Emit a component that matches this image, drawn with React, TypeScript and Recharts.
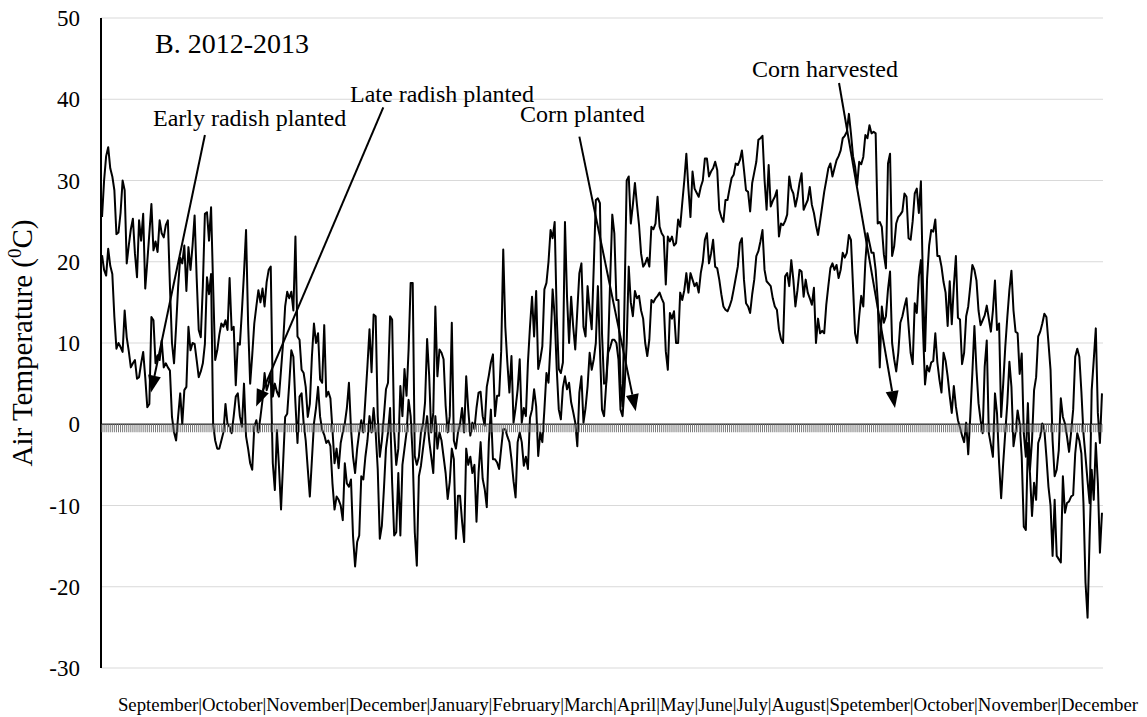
import React from "react";
import { LineChart, Line, XAxis, YAxis, CartesianGrid, ReferenceLine } from "recharts";

// daily maximum air temperature (°C), Sep 2012 – Dec 2013
const MAX_T = [
  25.5, 30, 33, 34.1, 31.5, 30.5, 28.8, 23.4, 23.6, 26,
  30, 28.8, 19.8, 22, 24, 25.3, 21, 18.1, 25.1, 22.6,
  25.9, 16.7, 20, 23.5, 27.1, 21.4, 22.5, 21.2, 25.1, 23.5,
  23, 24.5, 25.1, 17, 10, 7.5, 12, 17, 20.5, 19.8,
  22, 16.4, 21.8, 19, 22, 25.7, 18, 11.6, 10.7, 17,
  25.9, 26.1, 22.6, 26.7, 17, 7.9, 9.1, 11, 12.4, 12,
  12.8, 11.6, 18, 11.6, 12, 4.8, 10, 9.8, 14, 18.6,
  23.9, 12.4, 5, 8.5, 12.4, 14.5, 16.5, 15, 16.7, 14.5,
  17.5, 19, 19.4, 3.4, 5, 4, 3.4, 6.7, 10, 14.5,
  16.3, 15.5, 16.3, 14, 23.1, 10.8, 10.4, 6.7, 6.3, 4.6,
  0.9, 2.5, 8.3, 12.4, 10, 11.2, 5.5, 5.1, 12.2, 3.4,
  4, 3.2, -0.7, -4.8, -3, -5.4, -2.3, -1, 0.1, 2,
  5.1, -0.5, -4, -6, -3, -1, 0.5, -1, 3.1, 7.2,
  11.7, 6.4, 13.5, 13.3, 1, -4, -2, 1, 4.3, 5.1,
  13.3, 12.9, -1, -5, -3, 4.7, 1, 6.8, 3.5, 9.2,
  17.4, 17.4, -3.9, -5, -4, -1, 0, 2.7, 10.5, 6,
  -1, 1.4, 14.5, 5.9, 9.2, 8.8, 8, 2.3, -1, 1,
  12.5, -2, -3, -1, 0, 2, -1, 5.9, 1.8, -1.4,
  0.2, -0.6, 2, 3.9, 4, 1, -0.2, 4.6, 6, 7.6,
  8.6, 1, 3.5, 3.5, 9, 21.5, 12, 7.6, 3.9, 8.4,
  0.2, 2, 4.3, 8, 0.2, 2, 1, 7.6, 12, 15.7,
  10.8, 16.4, 6.8, 8, 9.6, 16.6, 17.4, 20, 23.9, 22.9,
  24.9, 13.3, 6.8, 6.3, 7.6, 24.9, 15.7, 10, 15.7, 12,
  9.2, 14, 18.6, 19.8, 12, 10.8, 17, 14, 11.7, 19.4,
  27.6, 27.8, 27.2, 11.2, 5, 5.1, 9.6, 18, 25.8, 23.5,
  15.3, 15.3, 5, 2.2, 16, 30, 30.5, 24.7, 27, 29.7,
  27, 24.5, 21, 19.4, 19.8, 20.5, 19.4, 24.3, 24, 24.7,
  28, 24.3, 23.5, 23.1, 17.2, 23.1, 22.5, 23.1, 22, 22.3,
  25.2, 24.3, 27.2, 30, 33.3, 29, 25.5, 31.1, 29, 28.5,
  28, 29.2, 30, 32.7, 32.7, 30.5, 31.1, 31.5, 32.3, 31.3,
  26.4, 25.5, 24.9, 27.6, 27.6, 29, 30.3, 30.7, 32.1, 31.9,
  32.5, 33.7, 31.3, 28.8, 28.6, 26.2, 29.7, 31, 32.3, 35,
  35.2, 35.5, 30.1, 26.4, 31.9, 26.8, 27.5, 28, 28.8, 23.1,
  24.7, 24.5, 25, 25.8, 30.5, 29, 28.4, 26.8, 28, 29.7,
  30.9, 26.4, 27, 27.6, 29.2, 27, 26, 24.5, 23.3, 25,
  26.8, 28.6, 30, 31.5, 32.1, 30.5, 31.5, 32.5, 33, 33.7,
  35.2, 35.5, 36, 38.2, 35.8, 33, 31.7, 29.4, 32.3, 32,
  32.9, 35.6, 35.2, 36.8, 35.8, 36, 35.8, 24.7, 24.9, 24.3,
  20.9, 19.2, 32.1, 33.3, 20.7, 21.9, 24.7, 25.5, 25.8, 26.2,
  28.4, 28, 22.9, 22.7, 25, 28.4, 29, 26, 29.9, 17,
  9, 17.9, 22, 23.9, 23.7, 25.2, 20.7, 20.7, 19.4, 17.5,
  16.2, 12.1, 17.6, 12.3, 17, 20.7, 13.1, 12.9, 7.4, 8.8,
  13.3, 14.5, 17, 19.6, 19, 17.7, 14, 12.2, 12.8, 13.4,
  14.6, 13, 11.4, 14, 17.7, 11.6, 12.4, 0.9, 5, 9.5,
  13.2, 16.5, 18.9, 14, 11.4, 11.2, 6.2, 8.7, -1.1, -4,
  2.6, -5.6, -2, 4.2, 5.8, 10.8, 11.4, 12.4, 13.6, 13.2,
  10, 6.7, -2, -6.4, -5.6, -3.2, 3.2, 0.9, 0.1, -1.5,
  -3.4, -1, 1.8, 8.3, 9.3, 8.3, 4, -1.1, -4, -7,
  -9.7, 4.2, 7.9, 11.8, 1.4, -2.3, 3.8,
];

// daily minimum air temperature (°C), same days
const MIN_T = [
  20.8, 19, 18.3, 21.6, 19.5, 18.5, 13.2, 9.3, 10, 9.5,
  8.9, 14, 10.7, 9, 7, 7.5, 7.9, 5.6, 5.8, 7.5,
  8.9, 5.8, 2.1, 2.5, 13.2, 12.8, 7.5, 8.5, 7.9, 10.3,
  7, 7.5, 7, 6.6, 0.9, -1, -2, 1, 3.8, 0,
  4.2, 4.6, 12, 9.1, 10, 9.9, 7.9, 5.8, 6.5, 7.5,
  9.9, 18.1, 16, 18.5, 0, -2, -3, -3, -2, -1,
  2.5, 0, -0.3, -1.1, 1, 3.4, 3.8, 1, -0.3, 5,
  -1.5, -3, -4.8, -5.6, -0.3, 0.5, -1, 0.9, 3, 6.3,
  4.2, 5, 6.3, -4.8, -8.1, -0.7, -5.2, -10.5, -4.8, 0.9,
  1.3, 5, 9.1, 8.3, 2.6, -2.3, 3.4, 3.8, 0.1, -2,
  -5.5, -8.9, -4.4, 0.1, 2, 4.6, 0.9, -0.7, -1.3, -2.3,
  -2, -2.7, -7.3, -10.5, -8.9, -9.3, -10, -11.8, -4.8, -7.3,
  -7.7, -6.8, -13.8, -17.5, -14.5, -13.7, -6.4, -6.8, -4, -2,
  1, -1, 2, -1, -5.5, -14.1, -12.5, -8, -3, -1,
  2, -7.2, -13.7, -13.3, -6, -13.7, -5, -3, -1, 3,
  1, -3.9, -13.3, -17.4, -6.4, -5.1, -3, -1, 1, -2,
  -4, -6, 1, -3, -1, -2, -4, -6, -9.2, -7.1,
  -3, -4.3, -14.1, -8.8, -8.8, -12, -14.5, -3, -5, -4,
  -6, -5, -12, -6, -2.2, -6.7, -8, -10.2, -2.2, 1.8,
  -4.3, -4.3, -4.7, -5.5, -3, -0.6, -0.6, -1.5, -2.2, -4.3,
  -7, -9, -2.2, -1, -2.2, -5.1, -4, -5.5, 0.8, 1.8,
  4.3, 2.2, -3.9, -1, -2.2, 1.8, 6.3, 5.1, 10, 16.6,
  13.3, 6.8, 1.8, 0.6, 4.5, 5.9, 4.3, 5.1, 2.7, 1.5,
  0.2, -2.7, 3.9, 5.9, 0.2, 2, 4.7, 8.8, 6.7, 8,
  10, 17, 9.2, 1.8, 1, 4.8, 8.8, 9.5, 10.4, 10.4,
  10, 8, 1.8, 1, 4.7, 10, 19.4, 15, 13.3, 16.4,
  15.5, 15.8, 14, 13, 10, 8.4, 10.4, 15.3, 15, 15.5,
  15.8, 16.2, 15.5, 14.9, 9, 6.7, 13.7, 13, 13.9, 10,
  10, 16.2, 15.3, 16.5, 18.6, 16.2, 18.6, 17.8, 17, 17.4,
  16.2, 18.6, 20, 22.7, 23.5, 19.8, 21, 22.7, 19.4, 19.2,
  17.8, 16, 14.5, 14.1, 13.9, 14.5, 15.3, 16.6, 18, 19.4,
  22.3, 22.9, 17.8, 14.9, 14.5, 13.7, 16, 17.8, 20.7, 21.3,
  22.5, 23.9, 19, 17.6, 17.3, 17, 15.5, 14.5, 14.1, 11.7,
  10.5, 10, 18.2, 18.6, 17, 20.2, 17.8, 14.5, 16.5, 19,
  18.8, 15.7, 17.8, 16.2, 15.5, 14.7, 16.8, 10, 13, 11.2,
  11.5, 11.2, 14.7, 17, 19.2, 19.8, 19, 19.6, 18, 19,
  21.1, 20.5, 21.1, 23.3, 22.7, 17, 11.2, 10, 13.3, 15.8,
  14.5, 20, 23.5, 22.3, 21.1, 21.1, 19, 15.3, 7, 14.5,
  12.5, 13.3, 16.6, 18.8, 10, 8, 6.5, 8.8, 12.5, 13.3,
  14.5, 15.5, 12.1, 8.8, 7.4, 14.9, 13.7, 18.2, 20.2, 11.7,
  4.9, 7.2, 6.5, 7.6, 7.8, 11.2, 7.6, 5.5, 3.9, 8.8,
  7.8, 5.9, 3.5, 1.4, 4.7, 2.2, 0.5, -0.4, -1.4, -2.2,
  0.2, -3.7, 1, 6.3, 12.1, 6.7, 2.6, 0.5, -1.1, 7.1,
  10.3, -1.1, -2.5, -4, 3.8, 1.3, -4.8, -9.1, -4.8, -1,
  2.6, 7.7, 4.6, -2.7, -1, 1.7, 0.1, -4, -12.6, -13,
  -2.3, -6, -11.3, -7.2, -9.3, -2.3, -1.5, 0.1, -0.7, -4,
  -7.7, -10, -16.2, -9.3, -16.2, -16.6, -17, -6.4, -10.9, -9.7,
  -9.5, -8.9, -8.7, -3.6, -1.1, -2, -3.6, -9.7, -19.5, -23.8,
  -13.8, -5.6, -9.3, -2.3, -7.2, -15.8, -10.9,
];

const MONTHS = [
  "September", "October", "November", "December", "January", "February",
  "March", "April", "May", "June", "July", "August", "Spetember",
  "October", "November", "December",
];

const Y_TICKS = [-30, -20, -10, 0, 10, 20, 30, 40, 50];

// arrows in data units: [day, °C] from the label end to the tip
const ARROWS = [
  { from: [50, 35.6], to: [23.8, 3.9] },
  { from: [136.7, 39], to: [74.9, 2.2] },
  { from: [232, 35.4], to: [259.4, 1.6] },
  { from: [358.2, 42], to: [385.4, 2.0] },
];

const NOTES = [
  { text: "B. 2012-2013", x: 155, y: 53, size: 28 },
  { text: "Early radish planted", x: 153, y: 126, size: 24 },
  { text: "Late radish planted", x: 350, y: 102, size: 24 },
  { text: "Corn planted", x: 520, y: 122, size: 24 },
  { text: "Corn harvested", x: 752, y: 77, size: 24 },
];

const FONT = "'Liberation Serif', 'Times New Roman', serif";

const rows = MAX_T.map((hi, i) => ({ day: i, hi, lo: MIN_T[i], axis: 0 }));

/** arrow drawn from the reference segment end points */
const Arrow = (p: any) => {
  const { x1, y1, x2, y2 } = p;
  const dx = x2 - x1;
  const dy = y2 - y1;
  const len = Math.hypot(dx, dy) || 1;
  const ux = dx / len;
  const uy = dy / len;
  const head = 17;
  const half = 6.5;
  const bx = x2 - ux * head;
  const by = y2 - uy * head;
  return (
    <g>
      <line x1={x1} y1={y1} x2={bx} y2={by} stroke="#000" strokeWidth={2} />
      <polygon
        points={`${x2},${y2} ${bx - uy * half},${by + ux * half} ${bx + uy * half},${by - ux * half}`}
        fill="#000"
      />
    </g>
  );
};

// little tick under the zero line for every day
const DayTick = (p: any) => (
  <line
    key={`tk-${p.index}`}
    x1={p.cx}
    x2={p.cx}
    y1={p.cy}
    y2={p.cy + 8}
    stroke="#7a7a7a"
    strokeWidth={1}
  />
);

const YTick = (p: any) => (
  <text
    x={p.x}
    y={p.y}
    dy="0.35em"
    textAnchor="end"
    fontFamily={FONT}
    fontSize={23}
    fill="#000"
    style={{ fontFamily: FONT }}
  >
    {p.payload.value}
  </text>
);

const XTitle = (p: any) => {
  const vb = p.viewBox || {};
  return (
    <text
      x={vb.x + vb.width / 2 + 26}
      y={vb.y + 43}
      textAnchor="middle"
      fontFamily={FONT}
      fontSize={18.8}
      fill="#000"
      style={{ fontFamily: FONT }}
    >
      {MONTHS.join("|")}
    </text>
  );
};

const YTitle = (p: any) => {
  const vb = p.viewBox || {};
  const cx = 32;
  const cy = vb.y + vb.height / 2;
  return (
    <text
      x={cx}
      y={cy}
      transform={`rotate(-90 ${cx} ${cy})`}
      textAnchor="middle"
      fontFamily={FONT}
      fontSize={29}
      fill="#000"
      style={{ fontFamily: FONT }}
    >
      Air Temperature (
      <tspan fontSize={19} dy={-11}>
        0
      </tspan>
      <tspan dy={11}>C)</tspan>
    </text>
  );
};

export default function App() {
  return (
    <div
      style={{
        position: "absolute",
        left: 0,
        top: 0,
        width: 1147,
        height: 717,
        background: "#fff",
        fontFamily: FONT,
      }}
    >
      <LineChart
        width={1147}
        height={717}
        data={rows}
        margin={{ top: 18, right: 44, bottom: 0, left: 0 }}
        style={{ fontFamily: FONT }}
      >
        <CartesianGrid vertical={false} stroke="#d9d9d9" strokeWidth={1} />
        <XAxis
          dataKey="day"
          type="number"
          domain={[-0.5, MAX_T.length - 0.5]}
          height={49}
          axisLine={false}
          tickLine={false}
          tick={false}
          label={<XTitle />}
        />
        <YAxis
          domain={[-30, 50]}
          ticks={Y_TICKS}
          width={101}
          axisLine={{ stroke: "#000", strokeWidth: 2 }}
          tickLine={false}
          tickSize={0}
          tickMargin={21}
          tick={<YTick />}
          label={<YTitle />}
        />
        <Line
          dataKey="axis"
          stroke="#3a3a3a"
          strokeWidth={1.5}
          dot={DayTick}
          activeDot={false}
          isAnimationActive={false}
        />
        <Line
          dataKey="hi"
          type="linear"
          stroke="#000"
          strokeWidth={2}
          strokeLinejoin="round"
          dot={false}
          activeDot={false}
          isAnimationActive={false}
        />
        <Line
          dataKey="lo"
          type="linear"
          stroke="#000"
          strokeWidth={2}
          strokeLinejoin="round"
          dot={false}
          activeDot={false}
          isAnimationActive={false}
        />
        {ARROWS.map((a, i) => (
          <ReferenceLine
            key={i}
            segment={[
              { x: a.from[0], y: a.from[1] },
              { x: a.to[0], y: a.to[1] },
            ]}
            ifOverflow="visible"
            shape={Arrow}
          />
        ))}
      </LineChart>
      <svg
        width={1147}
        height={717}
        style={{ position: "absolute", left: 0, top: 0, pointerEvents: "none" }}
      >
        {NOTES.map((n) => (
          <text key={n.text} x={n.x} y={n.y} fontFamily={FONT} fontSize={n.size} fill="#000">
            {n.text}
          </text>
        ))}
      </svg>
    </div>
  );
}
